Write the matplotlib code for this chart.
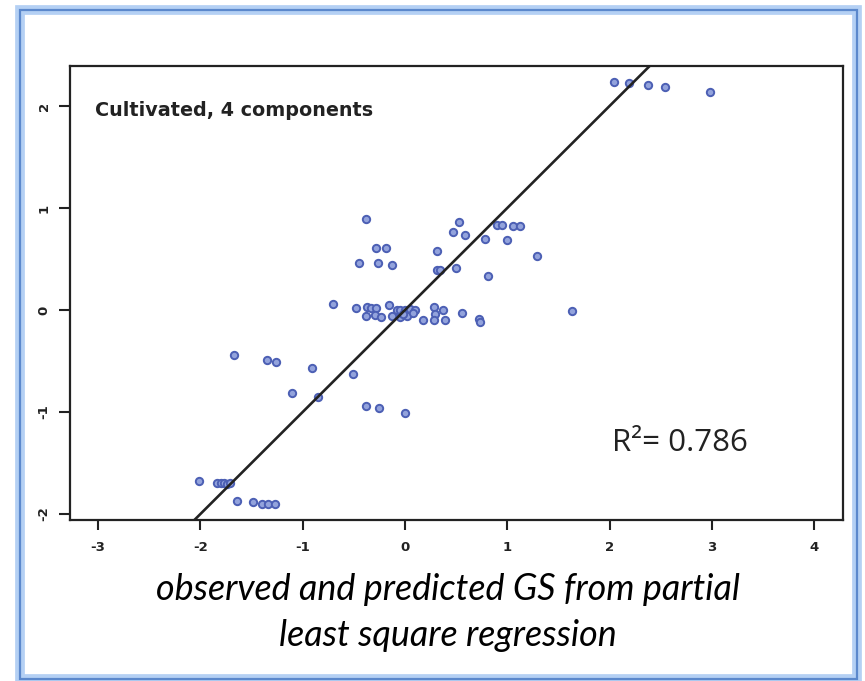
import numpy as np
import matplotlib.pyplot as plt
from matplotlib.patches import Rectangle

# observed vs predicted GS (PLS, 4 components)
observed = [2.04, 2.19, 2.38, 2.54, 2.98,
            -0.38, 0.53, 0.47, 0.59, 0.78, 0.90, 0.95, 1.06, 1.12, 1.00, 1.29,
            -0.28, -0.19, -0.45, -0.26, -0.13, 0.31, 0.31, 0.34, 0.50, 0.81,
            -0.70, 1.63, -0.48, -0.37, -0.33, -0.28, -0.16, -0.38, -0.29, -0.23,
            -0.13, -0.08, -0.05, 0.00, 0.05, 0.10, -0.05, 0.02, 0.28, 0.37,
            0.29, 0.18, 0.28, 0.39, 0.56, 0.72, 0.73, -0.02, 0.08,
            -1.67, -1.35, -1.26, -0.91, -0.51, -1.10, -0.85, -0.38, -0.25, 0.00,
            -2.01, -1.84, -1.80, -1.77, -1.74, -1.71, -1.64, -1.49, -1.40, -1.34, -1.27]
predicted = [2.24, 2.23, 2.21, 2.19, 2.14,
             0.89, 0.86, 0.76, 0.74, 0.70, 0.83, 0.83, 0.82, 0.82, 0.69, 0.53,
             0.61, 0.61, 0.46, 0.46, 0.44, 0.58, 0.39, 0.39, 0.41, 0.33,
             0.06, -0.01, 0.02, 0.03, 0.02, 0.02, 0.05, -0.06, -0.05, -0.07,
             -0.06, 0.00, 0.00, 0.00, 0.01, 0.00, -0.07, -0.06, 0.03, 0.00,
             -0.04, -0.10, -0.10, -0.10, -0.03, -0.09, -0.12, -0.04, -0.03,
             -0.44, -0.49, -0.51, -0.57, -0.63, -0.81, -0.85, -0.94, -0.96, -1.01,
             -1.68, -1.70, -1.70, -1.70, -1.71, -1.70, -1.87, -1.88, -1.90, -1.90, -1.90]
x_ticks = [-3, -2, -1, 0, 1, 2, 3, 4]
y_ticks = [-2, -1, 0, 1, 2]
r2 = 0.786

fig = plt.figure(figsize=(8.65, 6.81), dpi=100)
ax = fig.add_axes([70 / 865, 1 - 520 / 681, 773 / 865, 454 / 681])

ax.plot(observed, predicted, 'o', ms=5.3, mfc='#93a3dc', mec='#4c5fb4', mew=1.4)
ax.axline((0, 0), slope=1, color='#222222', lw=1.9)

ax.set_xlim(-3.275, 4.282)
ax.set_ylim(-2.059, 2.392)
ax.set_xticks(x_ticks)
ax.set_yticks(y_ticks)
ax.set_xticklabels([str(t) for t in x_ticks], fontsize=9.5, fontweight='bold')
ax.set_yticklabels([str(t) for t in y_ticks], fontsize=9.5, fontweight='bold',
                   rotation=90, va='center')
ax.tick_params(axis='x', length=7, width=1.5, pad=8, colors='#222222')
ax.tick_params(axis='y', length=8, width=1.5, pad=6, colors='#222222')
for s in ax.spines.values():
    s.set_linewidth(1.6)
    s.set_color('#222222')

ax.text(-3.03, 1.96, 'Cultivated, 4 components', fontsize=13.8, fontweight='bold',
        color='#222222', va='center', ha='left')
ax.text(2.02, -1.30, 'R²= %.3f' % r2, fontsize=22.5, family='Open Sans',
        color='#222222', va='center', ha='left')

fig.text(448 / 865, 1 - 589 / 681, 'observed and predicted GS from partial',
         fontsize=25.8, style='italic', family='Lato', ha='center', va='center')
fig.text(448 / 865, 1 - 636 / 681, 'least square regression',
         fontsize=25.8, style='italic', family='Lato', ha='center', va='center')

# blue panel border
fig.patches.append(Rectangle((20 / 865, 1 - 679 / 681), 837 / 865, 669 / 681,
                             transform=fig.transFigure, fill=False,
                             ec='#b4d0f4', lw=7))
fig.patches.append(Rectangle((20 / 865, 1 - 679 / 681), 837 / 865, 669 / 681,
                             transform=fig.transFigure, fill=False,
                             ec='#5b88cc', lw=1.6))

fig.savefig('out.png', dpi=100)
